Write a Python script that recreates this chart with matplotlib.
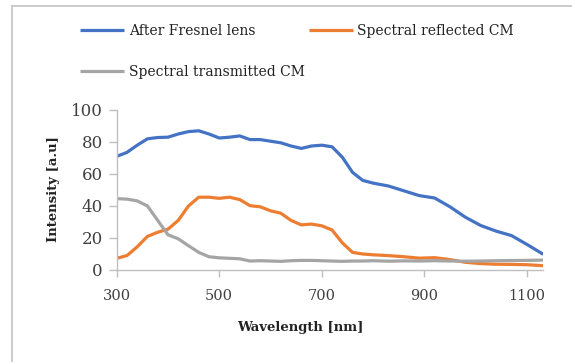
import matplotlib
matplotlib.use("Agg")
import matplotlib.pyplot as plt
from matplotlib.lines import Line2D

wavelength = [300, 320, 340, 360, 380, 400, 420, 440, 460, 480, 500, 520, 540, 560, 580,
              600, 620, 640, 660, 680, 700, 720, 740, 760, 780, 800, 830, 860, 890, 920,
              950, 980, 1010, 1040, 1070, 1100, 1132]
after_fresnel = [71, 73.5, 78, 82, 82.8, 83, 85, 86.5, 87, 85, 82.5, 83, 83.8, 81.5, 81.5,
                 80.5, 79.5, 77.5, 76, 77.5, 78, 77, 70.5, 61, 56, 54.3, 52.5, 49.5, 46.5, 45,
                 39.5, 33, 27.8, 24.3, 21.5, 16, 9.8]
reflected_cm = [7.3, 9, 14.5, 21, 23.6, 25.5, 31, 40, 45.5, 45.5, 44.8, 45.5, 44, 40.2, 39.5,
                37, 35.5, 31, 28.2, 28.7, 27.6, 25, 17, 11, 10, 9.5, 9, 8.3, 7.4, 7.7,
                6.5, 4.8, 4, 3.6, 3.5, 3.3, 2.7]
transmitted_cm = [44.6, 44.3, 43.2, 40, 31, 22, 19.5, 15.2, 11, 8.3, 7.6, 7.3, 7, 5.6, 5.8,
                  5.6, 5.4, 5.8, 6, 6, 5.8, 5.6, 5.4, 5.6, 5.6, 5.8, 5.5, 5.7, 5.6, 5.8,
                  5.6, 5.5, 5.6, 5.8, 5.9, 6, 6.2]
series_names = ["After Fresnel lens", "Spectral reflected CM", "Spectral transmitted CM"]
x_ticks = [300, 500, 700, 900, 1100]
y_ticks = [0, 20, 40, 60, 80, 100]

plt.rcParams["font.family"] = ["DejaVu Serif"]

W, H = 572, 362
fig = plt.figure(figsize=(W / 100, H / 100), dpi=100)

ax = fig.add_axes([116.7 / W, 1 - 270 / H, (543.3 - 116.7) / W, 160 / H])
lw = 2.3
l1, = ax.plot(wavelength, after_fresnel, color="#4472C4", lw=lw, solid_capstyle="butt")
l2, = ax.plot(wavelength, reflected_cm, color="#ED7D31", lw=lw, solid_capstyle="butt")
l3, = ax.plot(wavelength, transmitted_cm, color="#A5A5A5", lw=lw, solid_capstyle="butt")
ax.set_xlim(300, 1132)
ax.set_ylim(0, 100)
ax.set_xticks(x_ticks)
ax.set_yticks(y_ticks)
for s in ["top", "right"]:
    ax.spines[s].set_visible(False)
for s in ["left", "bottom"]:
    ax.spines[s].set_color("#BFBFBF")
    ax.spines[s].set_linewidth(1.0)
ax.tick_params(axis="both", direction="out", color="#BFBFBF", width=1.0)
ax.tick_params(axis="x", length=5, pad=9, labelsize=10.5, labelcolor="#404040")
ax.tick_params(axis="y", length=6, pad=4, labelsize=12, labelcolor="#404040")

fig.text(300 / W, 1 - 327 / H, "Wavelength [nm]", weight="bold",
         fontsize=9.5, ha="center", va="center", color="#222222")
fig.text(53 / W, 1 - 189 / H, "Intensity [a.u]", weight="bold",
         fontsize=9.5, ha="center", va="center", rotation=90, color="#222222")

# legend
leg = fig.legend([l1, l3, l2], [series_names[0], series_names[2], series_names[1]],
                 ncol=2, loc="upper left", bbox_to_anchor=(80 / W, 1 - 24 / H),
                 frameon=False, prop={"size": 10},
                 handlelength=3.2, handletextpad=0.3, columnspacing=0.3,
                 labelspacing=1.95, borderaxespad=0, borderpad=0)
for t in leg.get_texts():
    t.set_color("#222222")

# outer frame (left and top edges)
fig.add_artist(Line2D([12 / W, 12 / W], [0, 1 - 6 / H], transform=fig.transFigure,
                      color="#C8C8C8", lw=1.3))
fig.add_artist(Line2D([12 / W, 1], [1 - 6 / H, 1 - 6 / H], transform=fig.transFigure,
                      color="#C8C8C8", lw=1.3))

fig.savefig("out.png", dpi=100)
